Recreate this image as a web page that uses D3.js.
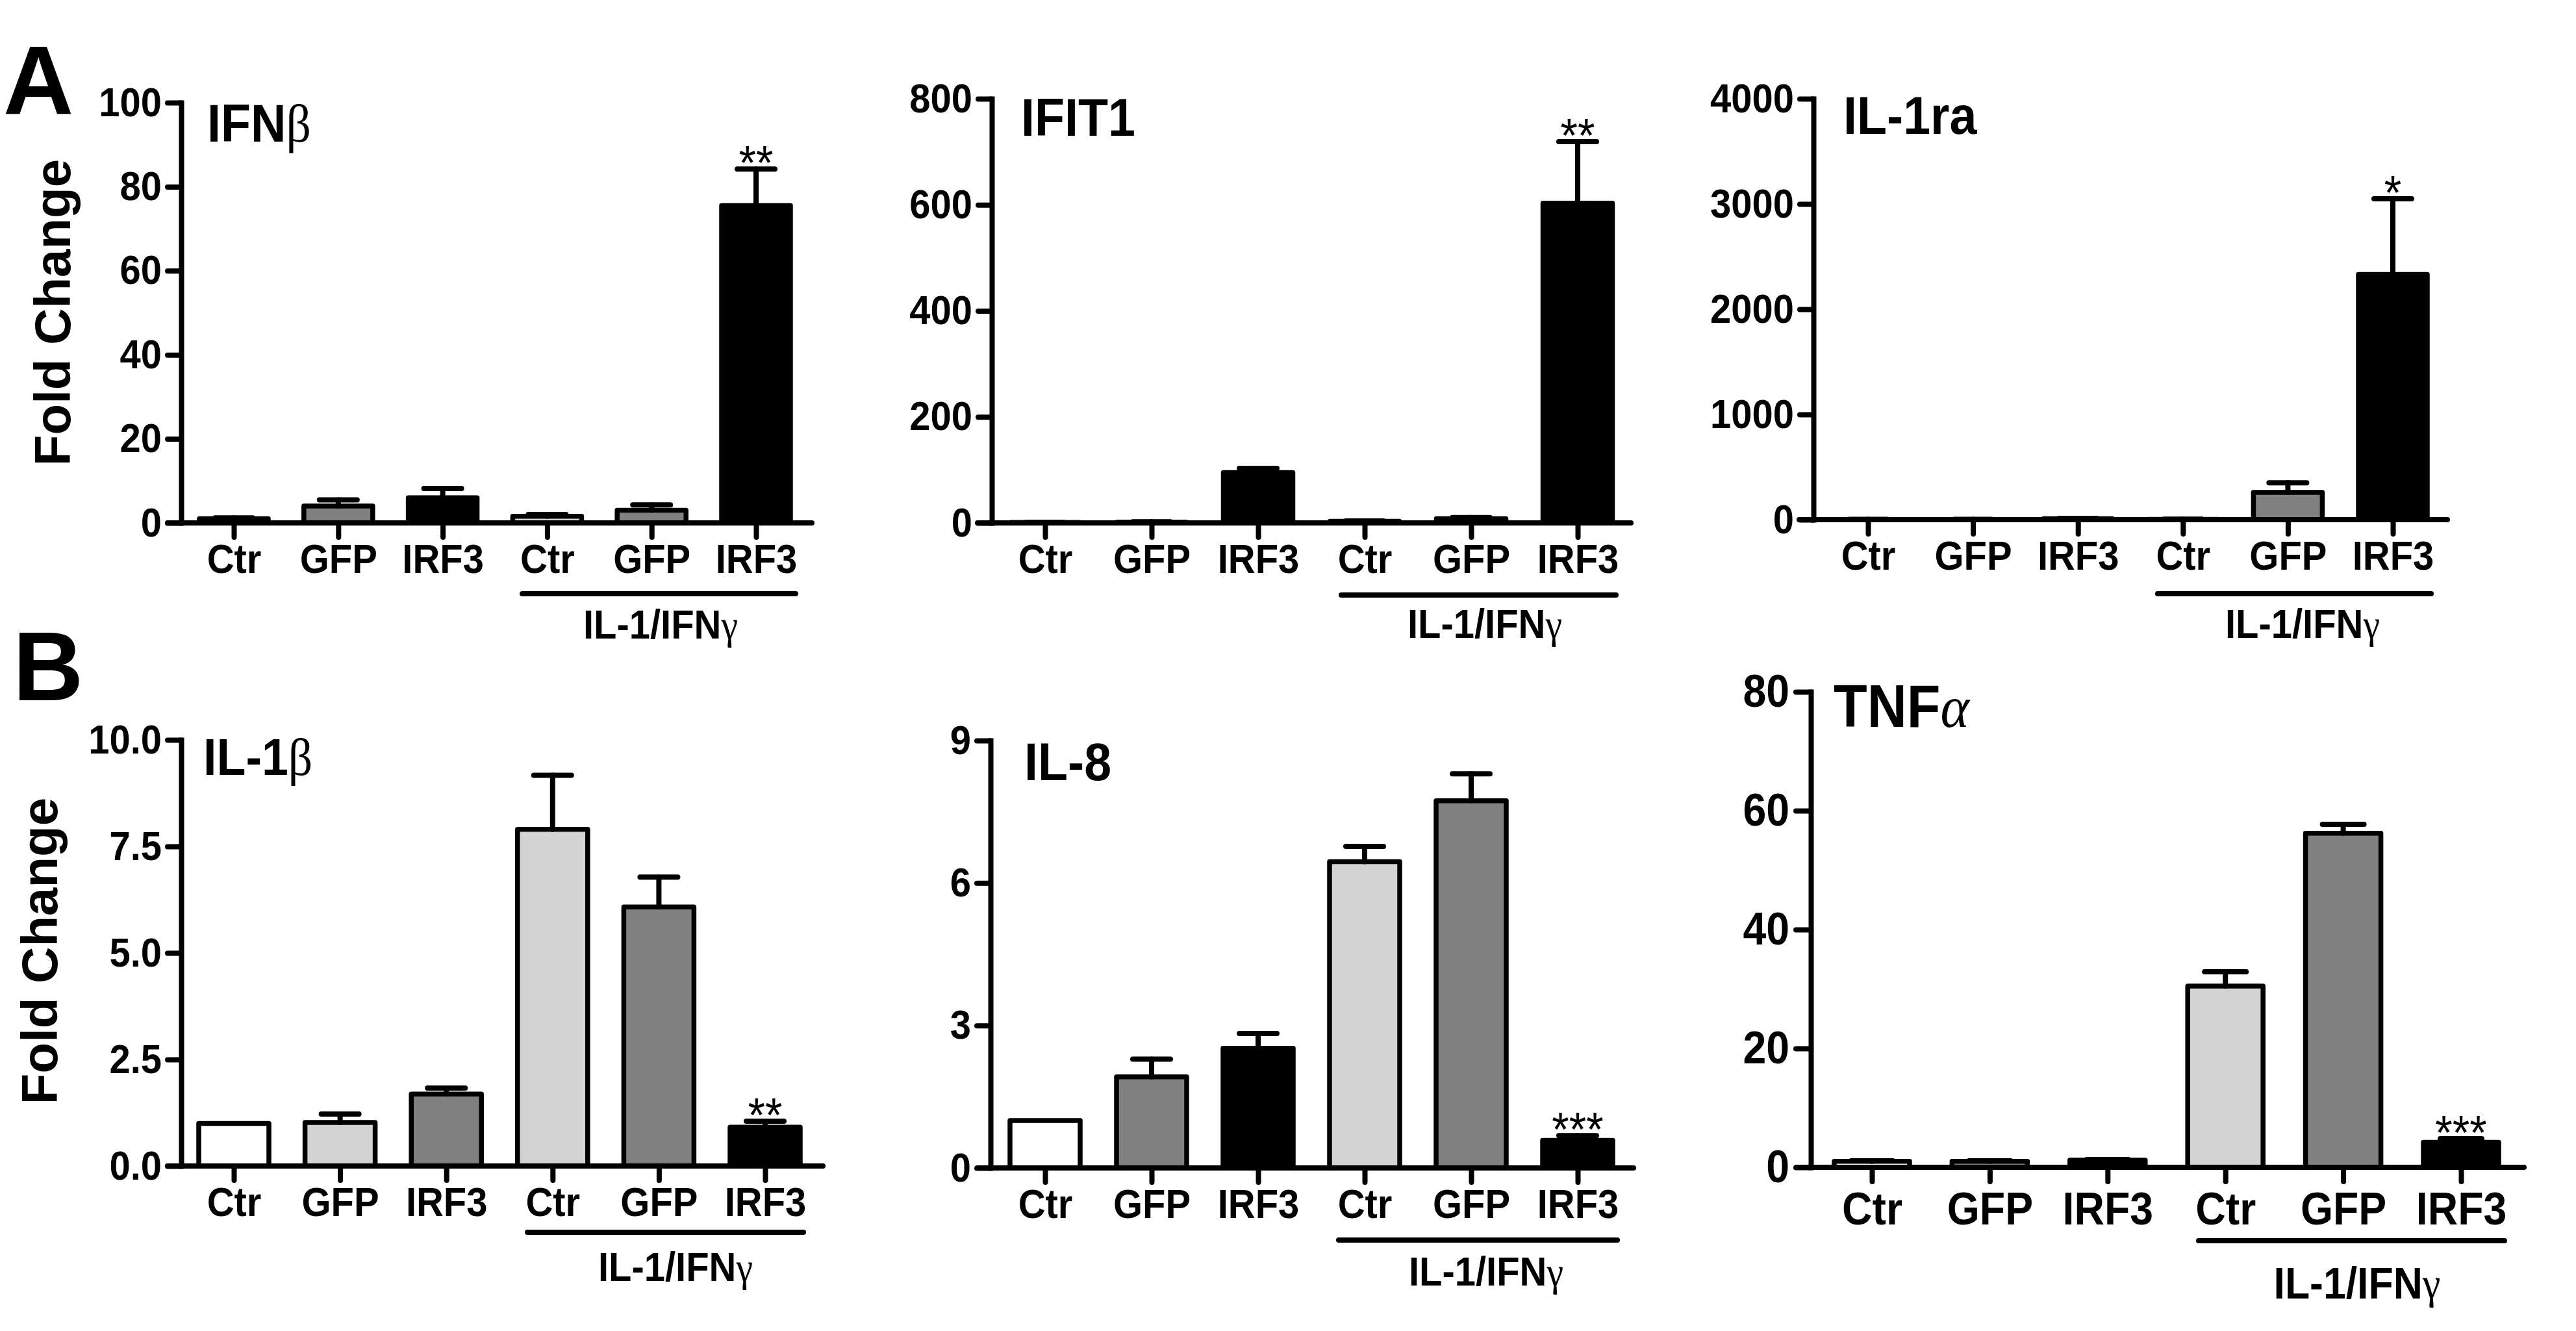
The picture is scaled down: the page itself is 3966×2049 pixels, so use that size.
<!DOCTYPE html>
<html>
<head>
<meta charset="utf-8">
<script src="https://cdnjs.cloudflare.com/ajax/libs/d3/7.8.5/d3.min.js"></script>
<style>
  body { margin: 0; background: #fff; }
  svg { display: block; }
  text { font-family: "Liberation Sans", Arial, sans-serif; font-weight: bold; fill: #000; }
  .greek { font-family: "Liberation Serif", "DejaVu Serif", serif; font-weight: normal; }
  .sig { font-weight: normal; }
</style>
</head>
<body>
<div id="figure"></div>
<script>
// data
var categories = ["Ctr", "GFP", "IRF3", "Ctr", "GFP", "IRF3"];
var genes = ["IFN", "IFIT1", "IL-1ra", "IL-1", "IL-8", "TNF"];
var geneGreek = ["β", "", "", "β", "", "α"];
var treatment = "IL-1/IFN";
var treatmentGreek = "γ";
var panelLetters = ["A", "B"];
var yLabel = "Fold Change";

var ifnbMean = [1, 4, 6, 1.6, 3, 75.5];
var ifnbErr = [0.2, 1.5, 2.2, 0.4, 1.3, 8.7];
var ifit1Mean = [1, 1.5, 95, 3, 8, 603];
var ifit1Err = [0.3, 0.5, 8, 0.8, 2, 116];
var il1raMean = [2, 2, 10, 3, 260, 2330];
var il1raErr = [1, 1, 3, 1, 90, 720];
var il1bMean = [1.0, 1.02, 1.69, 7.9, 6.08, 0.91];
var il1bErr = [0, 0.2, 0.14, 1.27, 0.7, 0.14];
var il8Mean = [1.0, 1.92, 2.52, 6.45, 7.73, 0.58];
var il8Err = [0, 0.37, 0.31, 0.32, 0.57, 0.1];
var tnfaMean = [1, 1, 1.2, 30.5, 56.2, 4.2];
var tnfaErr = [0.1, 0.1, 0.1, 2.4, 1.5, 0.6];

var panelMeans = [ifnbMean, ifit1Mean, il1raMean, il1bMean, il8Mean, tnfaMean];
var panelErrs = [ifnbErr, ifit1Err, il1raErr, il1bErr, il8Err, tnfaErr];
var yMaxes = [100, 800, 4000, 10, 9, 80];
var yTicks = [
  [0, 20, 40, 60, 80, 100],
  [0, 200, 400, 600, 800],
  [0, 1000, 2000, 3000, 4000],
  [0, 2.5, 5, 7.5, 10],
  [0, 3, 6, 9],
  [0, 20, 40, 60, 80]
];
var sigMarks = ["**", "**", "*", "**", "***", "***"];

// bar fills
var fillStd = ["#ffffff", "#808080", "#000000", "#d3d3d3", "#808080", "#000000"];
var fillB1 = ["#ffffff", "#d3d3d3", "#808080", "#d3d3d3", "#808080", "#000000"];

// layout of each panel in pixels
var layout = [
  {ax: 279, y0: 805, yTop: 158, t0: 360, t1: 1164, xa: 258, xb: 1250, barW: 106, capW: 29, tickFs: 63, tickLen: 21, yPad: 9, xPad: 10,
   titleX: 319, titleY: 218, titleFs: 82, sig0: 804, sig1: 1225, sigY: 914, labX: 1017, labY: 983, labFs: 63, fmt: "d", fills: fillStd},
  {ax: 1527, y0: 805, yTop: 152, t0: 1609, t1: 2429, xa: 1505, xb: 2511, barW: 107, capW: 29, tickFs: 63, tickLen: 21, yPad: 9, xPad: 10,
   titleX: 1572, titleY: 209, titleFs: 82, sig0: 2065, sig1: 2488, sigY: 916, labX: 2286, labY: 982, labFs: 63, fmt: "d", fills: fillStd},
  {ax: 2792, y0: 800, yTop: 152, t0: 2876, t1: 3684, xa: 2770, xb: 3768, barW: 106, capW: 29, tickFs: 63, tickLen: 21, yPad: 9, xPad: 10,
   titleX: 2838, titleY: 206, titleFs: 82, sig0: 3322, sig1: 3743, sigY: 914, labX: 3545, labY: 982, labFs: 63, fmt: "d", fills: fillStd},
  {ax: 279, y0: 1795, yTop: 1139, t0: 360, t1: 1178, xa: 258, xb: 1267, barW: 108, capW: 29, tickFs: 63, tickLen: 21, yPad: 9, xPad: 10,
   titleX: 313, titleY: 1193, titleFs: 80, sig0: 812, sig1: 1237, sigY: 1897, labX: 1040, labY: 1972, labFs: 63, fmt: ".1f", fills: fillB1},
  {ax: 1525, y0: 1798, yTop: 1140, t0: 1609, t1: 2429, xa: 1505, xb: 2515, barW: 108, capW: 29, tickFs: 63, tickLen: 21, yPad: 9, xPad: 10,
   titleX: 1577, titleY: 1201, titleFs: 82, sig0: 2061, sig1: 2490, sigY: 1909, labX: 2288, labY: 1979, labFs: 63, fmt: "d", fills: fillStd},
  {ax: 2788, y0: 1797, yTop: 1065, t0: 2882, t1: 3789, xa: 2766, xb: 3886, barW: 116, capW: 32, tickFs: 70, tickLen: 23, yPad: 10, xPad: 16,
   titleX: 2823, titleY: 1119, titleFs: 92, sig0: 3385, sig1: 3856, sigY: 1910, labX: 3629, labY: 1999, labFs: 68, fmt: "d", fills: fillStd}
];

var squeeze = 0.92;  // text in the figure is slightly condensed
var svgWidth = 3966;
var svgHeight = 2049;

var svg = d3.select("#figure")
  .append("svg")
  .attr("width", svgWidth)
  .attr("height", svgHeight);

layout.forEach(function(L, p) {
  var g = svg.append("g");
  var means = panelMeans[p];
  var errs = panelErrs[p];

  var x = d3.scalePoint()
    .domain(d3.range(categories.length))
    .range([L.t0, L.t1]);

  var y = d3.scaleLinear()
    .domain([0, yMaxes[p]])
    .range([L.y0, L.yTop]);

  // bars
  g.selectAll("rect.bar")
    .data(means)
    .enter()
    .append("rect")
    .attr("class", "bar")
    .attr("x", (d, i) => x(i) - L.barW / 2)
    .attr("y", d => y(d))
    .attr("width", L.barW)
    .attr("height", d => y(0) - y(d))
    .attr("fill", (d, i) => L.fills[i])
    .attr("stroke", "#000")
    .attr("stroke-width", 7.5)
    .attr("stroke-linejoin", "round");

  // error bars (upper half only)
  var errData = means.map((m, i) => ({i: i, m: m, e: errs[i]})).filter(d => d.e > 0);
  g.selectAll("line.err")
    .data(errData)
    .enter()
    .append("line")
    .attr("class", "err")
    .attr("x1", d => x(d.i)).attr("x2", d => x(d.i))
    .attr("y1", d => y(d.m)).attr("y2", d => y(d.m + d.e))
    .attr("stroke", "#000").attr("stroke-width", 6);
  g.selectAll("line.cap")
    .data(errData)
    .enter()
    .append("line")
    .attr("class", "cap")
    .attr("x1", d => x(d.i) - L.capW).attr("x2", d => x(d.i) + L.capW)
    .attr("y1", d => y(d.m + d.e)).attr("y2", d => y(d.m + d.e))
    .attr("stroke", "#000").attr("stroke-width", 6).attr("stroke-linecap", "round");

  // y axis
  var leftAxis = d3.axisLeft(y)
    .tickValues(yTicks[p])
    .tickSize(L.tickLen)
    .tickSizeOuter(0)
    .tickPadding(L.yPad)
    .tickFormat(d3.format(L.fmt));
  var yg = g.append("g")
    .attr("transform", `translate(${L.ax},0)`)
    .call(leftAxis);
  yg.selectAll("text")
    .style("font-size", L.tickFs + "px")
    .attr("x", -(L.tickLen + L.yPad) / squeeze)
    .attr("transform", `scale(${squeeze},1)`);

  // x axis
  var bottomAxis = d3.axisBottom(x)
    .tickSize(22)
    .tickSizeOuter(0)
    .tickPadding(L.xPad)
    .tickFormat(i => categories[i]);
  var xg = g.append("g")
    .attr("transform", `translate(0,${L.y0})`)
    .call(bottomAxis);
  xg.select(".domain").remove();
  xg.selectAll("text")
    .style("font-size", L.tickFs + "px")
    .attr("transform", `scale(${squeeze},1)`);
  xg.append("line")
    .attr("x1", L.xa).attr("x2", L.xb)
    .attr("y1", 0).attr("y2", 0);

  g.selectAll(".domain, .tick line, g > line")
    .attr("stroke", "#000")
    .attr("stroke-width", 8)
    .attr("stroke-linecap", "round");
  yg.select(".domain").attr("stroke-linecap", "square");

  // gene title
  var title = g.append("text")
    .attr("transform", `translate(${L.titleX},${L.titleY}) scale(${squeeze},1)`)
    .style("font-size", L.titleFs + "px");
  title.append("tspan").text(genes[p]);
  if (geneGreek[p]) {
    title.append("tspan")
      .attr("class", "greek")
      .style("font-style", geneGreek[p] == "α" ? "italic" : "normal")
      .text(geneGreek[p]);
  }

  // significance stars
  g.append("text")
    .attr("class", "sig")
    .attr("text-anchor", "middle")
    .attr("transform", `translate(${x(5)},${y(means[5] + errs[5]) + 16}) scale(${squeeze},1)`)
    .style("font-size", "74px")
    .text(sigMarks[p]);

  // treatment bracket
  g.append("line")
    .attr("x1", L.sig0).attr("x2", L.sig1)
    .attr("y1", L.sigY).attr("y2", L.sigY)
    .attr("stroke", "#000")
    .attr("stroke-width", 8)
    .attr("stroke-linecap", "round");

  var lab = g.append("text")
    .attr("text-anchor", "middle")
    .attr("transform", `translate(${L.labX},${L.labY}) scale(${squeeze},1)`)
    .style("font-size", L.labFs + "px");
  lab.append("tspan").text(treatment);
  lab.append("tspan").attr("class", "greek").text(treatmentGreek);
});

// panel letters and y labels
svg.append("text").attr("x", 5).attr("y", 175).style("font-size", "150px").text(panelLetters[0]);
svg.append("text").attr("x", 20).attr("y", 1078).style("font-size", "150px").text(panelLetters[1]);

svg.append("text")
  .attr("transform", "translate(108,481) rotate(-90)")
  .attr("text-anchor", "middle")
  .style("font-size", "78px")
  .text(yLabel);
svg.append("text")
  .attr("transform", "translate(88,1464) rotate(-90)")
  .attr("text-anchor", "middle")
  .style("font-size", "78px")
  .text(yLabel);
</script>
</body>
</html>
